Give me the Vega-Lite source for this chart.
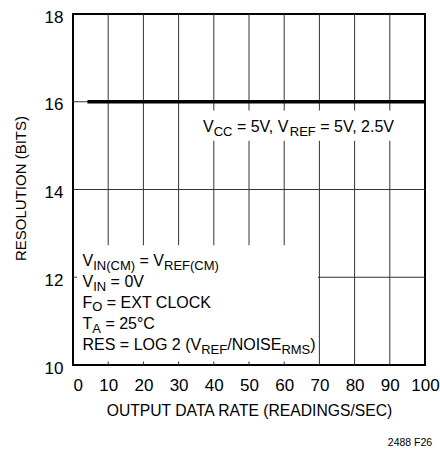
{
  "$schema": "https://vega.github.io/schema/vega-lite/v6.json",
  "width": 352,
  "height": 351,
  "autosize": {"type": "none"},
  "padding": {"left": 73, "top": 14, "right": 15, "bottom": 86},
  "config": {
    "view": {"stroke": "black", "strokeWidth": 2},
    "font": "Liberation Sans, Arial, sans-serif",
    "text": {"font": "Liberation Sans, Arial, sans-serif"}
  },
  "title": {
    "text": "2488 F26",
    "orient": "bottom",
    "anchor": "end",
    "fontSize": 10.5,
    "fontWeight": "normal",
    "color": "black",
    "dx": -7,
    "offset": 20
  },
  "datasets": {
    "grid": [
      {"x": 10, "x2": 10, "y": 12.73, "y2": 18},
      {"x": 10, "x2": 10, "y": 10, "y2": 10.08},
      {"x": 20, "x2": 20, "y": 12.73, "y2": 18},
      {"x": 20, "x2": 20, "y": 10, "y2": 10.08},
      {"x": 30, "x2": 30, "y": 12.73, "y2": 18},
      {"x": 30, "x2": 30, "y": 10, "y2": 10.08},
      {"x": 40, "x2": 40, "y": 15.8, "y2": 18},
      {"x": 40, "x2": 40, "y": 12.73, "y2": 15.11},
      {"x": 40, "x2": 40, "y": 10, "y2": 10.08},
      {"x": 50, "x2": 50, "y": 15.8, "y2": 18},
      {"x": 50, "x2": 50, "y": 12.73, "y2": 15.11},
      {"x": 50, "x2": 50, "y": 10, "y2": 10.08},
      {"x": 60, "x2": 60, "y": 15.8, "y2": 18},
      {"x": 60, "x2": 60, "y": 12.73, "y2": 15.11},
      {"x": 60, "x2": 60, "y": 10, "y2": 10.08},
      {"x": 70, "x2": 70, "y": 15.8, "y2": 18},
      {"x": 70, "x2": 70, "y": 10, "y2": 15.11},
      {"x": 80, "x2": 80, "y": 15.8, "y2": 18},
      {"x": 80, "x2": 80, "y": 10, "y2": 15.11},
      {"x": 90, "x2": 90, "y": 15.8, "y2": 18},
      {"x": 90, "x2": 90, "y": 10, "y2": 15.11},
      {"x": 0, "x2": 100, "y": 16, "y2": 16},
      {"x": 0, "x2": 100, "y": 14, "y2": 14},
      {"x": 69.6, "x2": 100, "y": 12, "y2": 12},
      {"x": 0, "x2": 1.1, "y": 12, "y2": 12}
    ],
    "curve": [
      {"x": 4.1, "y": 16},
      {"x": 100, "y": 16}
    ],
    "labels": [
      {"text": "V", "x": 36.93, "y": 15.3, "role": "main"},
      {"text": "CC", "x": 39.97, "y": 15.3, "role": "sub"},
      {"text": "= 5V, V", "x": 46.56, "y": 15.3, "role": "main"},
      {"text": "REF", "x": 61.59, "y": 15.3, "role": "sub"},
      {"text": "= 5V, 2.5V", "x": 70.26, "y": 15.3, "role": "main"},
      {"text": "V", "x": 2.7, "y": 12.25, "role": "main"},
      {"text": "IN(CM)", "x": 5.73, "y": 12.25, "role": "sub"},
      {"text": "= V", "x": 18.89, "y": 12.25, "role": "main"},
      {"text": "REF(CM)", "x": 25.85, "y": 12.25, "role": "sub"},
      {"text": "V", "x": 2.7, "y": 11.77, "role": "main"},
      {"text": "IN", "x": 5.73, "y": 11.77, "role": "sub"},
      {"text": "= 0V", "x": 10.68, "y": 11.77, "role": "main"},
      {"text": "F", "x": 2.7, "y": 11.3, "role": "main"},
      {"text": "O", "x": 5.48, "y": 11.3, "role": "sub"},
      {"text": "= EXT CLOCK", "x": 9.6, "y": 11.3, "role": "main"},
      {"text": "T", "x": 2.7, "y": 10.82, "role": "main"},
      {"text": "A", "x": 5.48, "y": 10.82, "role": "sub"},
      {"text": "= 25°C", "x": 9.2, "y": 10.82, "role": "main"},
      {"text": "RES = LOG 2 (V", "x": 2.7, "y": 10.34, "role": "main"},
      {"text": "REF", "x": 36.42, "y": 10.34, "role": "sub"},
      {"text": "/NOISE", "x": 43.81, "y": 10.34, "role": "main"},
      {"text": "RMS", "x": 59.2, "y": 10.34, "role": "sub"},
      {"text": ")", "x": 67.42, "y": 10.34, "role": "main"}
    ]
  },
  "encoding": {
    "x": {
      "field": "x",
      "type": "quantitative",
      "scale": {"domain": [0, 100], "nice": false, "zero": false},
      "axis": {
        "values": [0, 10, 20, 30, 40, 50, 60, 70, 80, 90, 100],
        "title": "OUTPUT DATA RATE (READINGS/SEC)",
        "grid": false,
        "ticks": false,
        "tickSize": 0,
        "domain": false,
        "labelFontSize": 17,
        "labelColor": "black",
        "labelPadding": 25,
        "labelBaseline": "alphabetic",
        "labelFlush": false,
        "labelOverlap": false,
        "labelAlign": {"condition": {"test": "datum.value === 0", "value": "left"}, "value": "center"},
        "titleFontSize": 15.7,
        "titleFontWeight": "normal",
        "titleColor": "black",
        "titleBaseline": "alphabetic",
        "titleY": 50
      }
    },
    "y": {
      "field": "y",
      "type": "quantitative",
      "scale": {"domain": [10, 18], "nice": false, "zero": false},
      "axis": {
        "values": [10, 12, 14, 16, 18],
        "title": "RESOLUTION (BITS)",
        "grid": false,
        "ticks": false,
        "tickSize": 0,
        "domain": false,
        "labelFontSize": 17,
        "labelColor": "black",
        "labelPadding": 10,
        "labelBaseline": "middle",
        "labelOffset": 3,
        "labelFlush": false,
        "labelOverlap": false,
        "titleFontSize": 15,
        "titleFontWeight": "normal",
        "titleColor": "black",
        "titleAngle": -90,
        "titleAlign": "center",
        "titleBaseline": "alphabetic",
        "titleX": -48,
        "titleY": 174
      }
    }
  },
  "layer": [
    {
      "data": {"name": "grid"},
      "mark": {"type": "rule", "color": "#333333", "strokeWidth": 1},
      "encoding": {
        "x2": {"field": "x2"},
        "y2": {"field": "y2"}
      }
    },
    {
      "data": {"name": "curve"},
      "mark": {"type": "line", "color": "black", "strokeWidth": 3.5},
      "encoding": {}
    },
    {
      "data": {"name": "labels"},
      "transform": [{"filter": "datum.role === 'main'"}],
      "mark": {"type": "text", "align": "left", "baseline": "alphabetic", "fontSize": 16, "color": "black"},
      "encoding": {
        "text": {"field": "text"}
      }
    },
    {
      "data": {"name": "labels"},
      "transform": [{"filter": "datum.role === 'sub'"}],
      "mark": {"type": "text", "align": "left", "baseline": "alphabetic", "fontSize": 13, "dy": 3.5, "color": "black"},
      "encoding": {
        "text": {"field": "text"}
      }
    }
  ]
}
